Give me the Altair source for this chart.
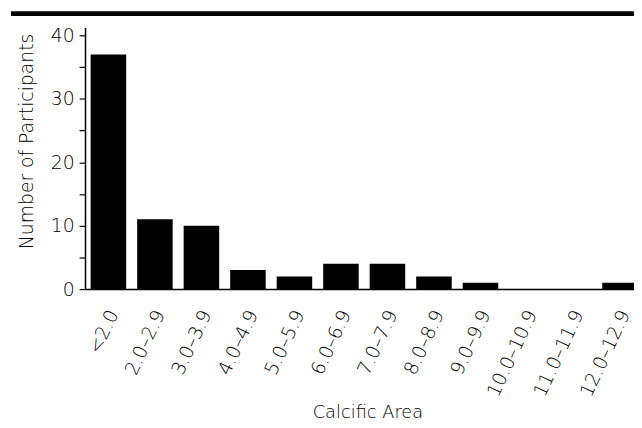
import altair as alt
import pandas as pd

categories = ["<2.0", "2.0–2.9", "3.0–3.9", "4.0–4.9", "5.0–5.9", "6.0–6.9",
              "7.0–7.9", "8.0–8.9", "9.0–9.9", "10.0–10.9", "11.0–11.9", "12.0–12.9"]
counts = [37, 11, 10, 3, 2, 4, 4, 2, 1, 0, 0, 1]
y_ticks = [0, 5, 10, 15, 20, 25, 30, 35, 40]

df = pd.DataFrame({"area": categories, "n": counts})

FONT = "DejaVu Sans"
FW = 300
PLOT_W = 556
PLOT_H = 265

bars = alt.Chart(df).mark_bar(color="black").encode(
    x=alt.X("area:N", sort=categories,
            scale=alt.Scale(range=[0, 565.5], paddingInner=0.236, paddingOuter=0.121),
            axis=alt.Axis(title="Calcific Area", labelAngle=295, labelAlign="right",
                          labelBaseline="middle", labelFontSize=19, labelPadding=22,
                          labelOffset=5,
                          labelFontWeight=FW, ticks=False, domainColor="black",
                          domainWidth=1.5, grid=False,
                          titleFontSize=18, titleFontWeight=FW, labelColor="black",
                          titleColor="black", labelFont=FONT, titleFont=FONT,
                          titleX=286, titleY=116, titleAlign="center",
                          titleBaseline="top", titleAnchor="start")),
    y=alt.Y("n:Q", scale=alt.Scale(domain=[0, 41.25], nice=False),
            axis=alt.Axis(title="Number of Participants", values=y_ticks,
                          labelExpr="datum.value % 10 == 0 ? datum.label : ''",
                          tickSize=6, tickColor="black", tickWidth=1.2,
                          domainColor="black", domainWidth=1.5, grid=False,
                          labelFontSize=19, labelFontWeight=FW, labelPadding=5,
                          labelColor="black", titleFontSize=19, titleFontWeight=FW,
                          titleColor="black", labelFont=FONT, titleFont=FONT,
                          titleAngle=270, titleAlign="center", titleBaseline="bottom",
                          titleX=-49, titleY=115, titleAnchor="start")),
)

top_rule = alt.Chart(pd.DataFrame({"a": [0]})).mark_rule(
    color="black", strokeWidth=5
).encode(x=alt.value(-75), x2=alt.value(PLOT_W + 10), y=alt.value(-14))

chart = alt.layer(bars, top_rule).properties(
    width=PLOT_W, height=PLOT_H,
    background="white",
    autosize=alt.AutoSizeParams(type="none"),
    padding={"left": 78, "top": 17, "right": 0, "bottom": 138},
).configure_view(stroke=None, strokeWidth=0)

chart.save("out.html", embed_options={"renderer": "svg", "actions": False})
